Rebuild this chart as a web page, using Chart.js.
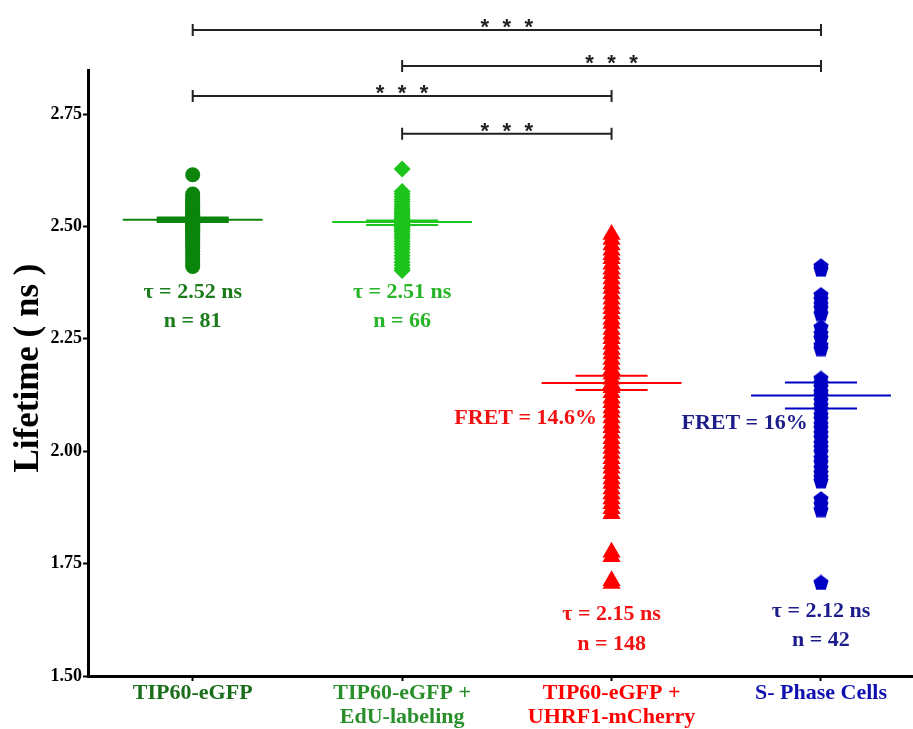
<!DOCTYPE html>
<html>
<head>
<meta charset="utf-8">
<script src="https://cdn.jsdelivr.net/npm/chart.js@4.4.1/dist/chart.umd.min.js"></script>
<style>
  html, body { margin: 0; padding: 0; background: #fff; overflow: hidden; }
  #wrap { width: 923px; height: 729px; position: relative; }
</style>
</head>
<body>
<div id="wrap"><canvas id="chart"></canvas></div>
<script>
'use strict';

// ── Data ──────────────────────────────────────────────────────────────────────

const GROUP_LABELS = [
  ['TIP60-eGFP'],
  ['TIP60-eGFP +', 'EdU-labeling'],
  ['TIP60-eGFP +', 'UHRF1-mCherry'],
  ['S- Phase Cells'],
];
const Y_TICKS = [1.50, 1.75, 2.00, 2.25, 2.50, 2.75];

const TIP60 = [
  2.615, 2.572, 2.566, 2.561, 2.557, 2.552, 2.548, 2.544, 2.541, 2.537, 2.533,
  2.530, 2.527, 2.524, 2.521, 2.519, 2.517, 2.515, 2.513, 2.511, 2.509, 2.507,
  2.505, 2.502, 2.500, 2.497, 2.494, 2.491, 2.488, 2.484, 2.480, 2.476, 2.472,
  2.467, 2.462, 2.457, 2.451, 2.445, 2.438, 2.431, 2.424, 2.417, 2.411,
];
const TIP60_EDU = [
  2.628, 2.578, 2.572, 2.566, 2.560, 2.555, 2.549, 2.544, 2.539, 2.534, 2.530,
  2.526, 2.522, 2.518, 2.515, 2.512, 2.509, 2.506, 2.503, 2.500, 2.496, 2.492,
  2.488, 2.483, 2.478, 2.473, 2.467, 2.461, 2.455, 2.449, 2.442, 2.435, 2.428,
  2.421, 2.414, 2.407, 2.402,
];
const TIP60_UHRF1 = [
  2.482, 2.471, 2.459, 2.447, 2.437, 2.428, 2.416, 2.405, 2.395, 2.383, 2.372,
  2.362, 2.350, 2.338, 2.327, 2.317, 2.305, 2.293, 2.284, 2.271, 2.260, 2.250,
  2.238, 2.226, 2.216, 2.204, 2.193, 2.181, 2.171, 2.160, 2.150, 2.141, 2.130,
  2.118, 2.108, 2.096, 2.086, 2.074, 2.062, 2.052, 2.040, 2.028, 2.017, 2.006,
  1.995, 1.983, 1.972, 1.962, 1.950, 1.938, 1.928, 1.916, 1.905, 1.894, 1.883,
  1.872, 1.861, 1.775, 1.765, 1.712, 1.706,
];
const S_PHASE = [
  2.412, 2.405, 2.348, 2.338, 2.327, 2.318, 2.306, 2.276, 2.262, 2.252, 2.236,
  2.228, 2.162, 2.152, 2.143, 2.132, 2.124, 2.113, 2.102, 2.093, 2.081, 2.072,
  2.060, 2.051, 2.040, 2.030, 2.018, 2.008, 1.998, 1.985, 1.975, 1.963, 1.952,
  1.942, 1.934, 1.894, 1.882, 1.870, 1.708,
];

const MEANS  = [2.515, 2.510, 2.152, 2.124];
const SEM_HI = [2.519, 2.513, 2.168, 2.153];
const SEM_LO = [2.511, 2.503, 2.136, 2.095];

// significance brackets: [from group, to group, level (ns)]
const BRACKETS = [[0, 3, 2.937], [1, 3, 2.857], [0, 2, 2.790], [1, 2, 2.706]];

const TAU_TEXT  = ['τ = 2.52 ns', 'τ = 2.51 ns', 'τ = 2.15 ns', 'τ = 2.12 ns'];
const N_TEXT    = ['n = 81', 'n = 66', 'n = 148', 'n = 42'];
const FRET_TEXT = ['', '', 'FRET = 14.6%', 'FRET = 16%'];

// ── Styles / layout ───────────────────────────────────────────────────────────

const SERIF = '"Liberation Serif", "Times New Roman", serif';
const POINT_COLORS = ['#0b850b', '#1cc41c', '#ff0000', '#0000c4'];
const TEXT_COLORS  = ['#1c7c1c', '#28b428', '#f21212', '#1c1c8a'];
const LABEL_COLORS = ['#1a6e1a', '#2a8f2a', '#ff0000', '#1010b0'];
const MEAN_HALF = 0.334;
const SEM_HALF = 0.172;

// where the tau / n / FRET texts sit, in data units
const TAU_POS  = [[0, 2.353], [1, 2.353], [2, 1.637], [3, 1.644]];
const N_POS    = [[0, 2.288], [1, 2.288], [2, 1.570], [3, 1.579]];
const FRET_POS = [null, null, [1.59, 2.074], [2.635, 2.062]];

function pentagon(size, color) {
  const c = document.createElement('canvas');
  c.width = size; c.height = size;
  const g = c.getContext('2d');
  const r = size / 2;
  g.beginPath();
  for (let i = 0; i < 5; i++) {
    const a = -Math.PI / 2 + i * 2 * Math.PI / 5;
    const px = r + r * Math.cos(a);
    const py = r + 0.6 + r * Math.sin(a) * 1.05;
    if (i === 0) g.moveTo(px, py); else g.lineTo(px, py);
  }
  g.closePath();
  g.fillStyle = color;
  g.fill();
  return c;
}

const scatter = (values, idx, style, radius) => ({
  type: 'scatter',
  data: values.map(v => ({ x: idx, y: v })),
  pointStyle: style,
  pointRadius: radius,
  pointHoverRadius: radius,
  backgroundColor: POINT_COLORS[idx],
  borderColor: POINT_COLORS[idx],
  borderWidth: 0,
  order: 2,
});

const hLine = (idx, yv, half, width) => ({
  type: 'line',
  data: [{ x: idx - half, y: yv }, { x: idx + half, y: yv }],
  borderColor: POINT_COLORS[idx],
  borderWidth: width,
  pointRadius: 0,
  order: 1,
});

const datasets = [
  scatter(TIP60, 0, 'circle', 7.5),
  scatter(TIP60_EDU, 1, 'rectRot', 8.5),
  scatter(TIP60_UHRF1, 2, 'triangle', 10.5),
  scatter(S_PHASE, 3, pentagon(16, POINT_COLORS[3]), 8),
];
MEANS.forEach((m, i) => {
  datasets.push(hLine(i, m, MEAN_HALF, 2));
  datasets.push(hLine(i, SEM_HI[i], SEM_HALF, i === 0 ? 3 : 2));
  datasets.push(hLine(i, SEM_LO[i], SEM_HALF, i === 0 ? 3 : 2));
});

// ── Overlay: brackets, annotations, y title ──────────────────────────────────

const overlay = {
  id: 'overlay',
  afterDraw(chart) {
    const { ctx, chartArea, scales: { x, y } } = chart;
    ctx.save();

    // brackets
    ctx.strokeStyle = '#222';
    ctx.fillStyle = '#222';
    ctx.lineWidth = 2;
    ctx.font = 'bold 22px "Liberation Sans", Arial, sans-serif';
    ctx.textAlign = 'center';
    ctx.textBaseline = 'alphabetic';
    BRACKETS.forEach(([a, b, lvl]) => {
      const x1 = x.getPixelForValue(a), x2 = x.getPixelForValue(b);
      const yy = y.getPixelForValue(lvl);
      ctx.beginPath();
      ctx.moveTo(x1, yy); ctx.lineTo(x2, yy);
      ctx.moveTo(x1, yy - 6); ctx.lineTo(x1, yy + 6);
      ctx.moveTo(x2, yy - 6); ctx.lineTo(x2, yy + 6);
      ctx.stroke();
      const mid = (x1 + x2) / 2;
      [-22, 0, 22].forEach(dx => ctx.fillText('*', mid + dx, yy + 4));
    });

    // tau / n / FRET texts
    ctx.font = 'bold 22px ' + SERIF;
    ctx.textBaseline = 'middle';
    for (let i = 0; i < 4; i++) {
      ctx.fillStyle = TEXT_COLORS[i];
      ctx.fillText(TAU_TEXT[i], x.getPixelForValue(TAU_POS[i][0]), y.getPixelForValue(TAU_POS[i][1]));
      ctx.fillText(N_TEXT[i], x.getPixelForValue(N_POS[i][0]), y.getPixelForValue(N_POS[i][1]));
      if (FRET_POS[i]) {
        ctx.fillText(FRET_TEXT[i], x.getPixelForValue(FRET_POS[i][0]), y.getPixelForValue(FRET_POS[i][1]));
      }
    }

    // y axis title
    ctx.fillStyle = '#000';
    ctx.font = 'bold 35px ' + SERIF;
    ctx.translate(chartArea.left - 59, 368);
    ctx.rotate(-Math.PI / 2);
    ctx.fillText('Lifetime ( ns )', 0, 0);
    ctx.restore();
  },
};

// ── Chart ────────────────────────────────────────────────────────────────────

new Chart(document.getElementById('chart'), {
  type: 'scatter',
  data: { datasets },
  options: {
    responsive: true,
    maintainAspectRatio: false,
    animation: false,
    layout: { padding: { top: 70, right: 0, bottom: 0, left: 0 } },
    plugins: { legend: { display: false }, tooltip: { enabled: false } },
    scales: {
      x: {
        type: 'linear',
        min: -0.5,
        max: 3.437,
        afterBuildTicks: s => { s.ticks = [0, 1, 2, 3].map(v => ({ value: v })); },
        afterFit: s => { s.height = 53; },
        ticks: {
          callback: v => GROUP_LABELS[v],
          color: c => LABEL_COLORS[c.index],
          font: { family: SERIF, size: 22, weight: 'bold', lineHeight: 1.1 },
          padding: 0,
          maxRotation: 0,
          autoSkip: false,
        },
        grid: { drawOnChartArea: false, drawTicks: true, tickLength: 5, tickWidth: 2, tickColor: '#000' },
        border: { display: true, color: '#000', width: 3 },
      },
      y: {
        min: 1.5,
        max: 2.848,
        afterBuildTicks: s => { s.ticks = Y_TICKS.map(v => ({ value: v })); },
        afterFit: s => { s.width = 88; },
        ticks: {
          callback: v => v.toFixed(2),
          color: '#000',
          font: { family: SERIF, size: 18, weight: 'bold' },
          padding: 1,
        },
        grid: { drawOnChartArea: false, drawTicks: true, tickLength: 5, tickWidth: 2, tickColor: '#000' },
        border: { display: true, color: '#000', width: 3 },
      },
    },
  },
  plugins: [overlay],
});
</script>
</body>
</html>
